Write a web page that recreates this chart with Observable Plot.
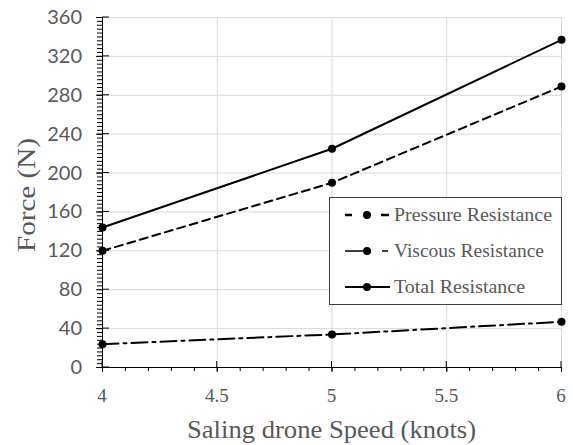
<!DOCTYPE html>
<html>
<head>
<meta charset="utf-8">
<script src="https://cdn.jsdelivr.net/npm/d3@7"></script>
<script src="https://cdn.jsdelivr.net/npm/@observablehq/plot@0.6"></script>
<style>
  html, body { margin: 0; padding: 0; background: #fff; }
  #chart { position: relative; width: 573px; height: 445px; }
</style>
</head>
<body>
<div id="chart"></div>
<script>
const speeds = [4, 5, 6];
const pressure = [120, 190, 289];
const viscous = [24, 34, 47];
const total = [144, 225, 337];
const seriesNames = ["Pressure Resistance", "Viscous Resistance", "Total Resistance"];
const xTicks = [4, 4.5, 5, 5.5, 6];
const yTicks = [0, 40, 80, 120, 160, 200, 240, 280, 320, 360];

const dashes = {
  "Pressure Resistance": "8,5",
  "Viscous Resistance": "16,5,3,5",
  "Total Resistance": null
};
const seriesValues = [pressure, viscous, total];
const rows = [];
seriesNames.forEach((name, i) => speeds.forEach((s, j) => rows.push({series: name, x: s, y: seriesValues[i][j]})));

const xMinor = d3.range(40, 61).map(v => v / 10);
const yMinor = d3.range(0, 361, 4);
const ink = "#595959";

const lineMarks = seriesNames.map(name =>
  Plot.line(rows.filter(d => d.series === name), {
    x: "x", y: "y", stroke: "black", strokeWidth: 2,
    strokeDasharray: dashes[name] || undefined
  })
);

const plot = Plot.plot({
  width: 573,
  height: 445,
  marginLeft: 102,
  marginRight: 12,
  marginTop: 17,
  marginBottom: 78,
  x: {domain: [4, 6], ticks: xTicks},
  y: {domain: [0, 360], ticks: yTicks},
  style: {background: "white"},
  marks: [
    Plot.gridY(yTicks.filter(v => v > 0), {stroke: "#d9d9d9", strokeOpacity: 1, strokeWidth: 1}),
    Plot.gridX(xTicks.filter(v => v > 4), {stroke: "#d9d9d9", strokeOpacity: 1, strokeWidth: 1}),
    Plot.axisY(yMinor, {tickSize: 5, tickFormat: () => "", label: null, stroke: "black", strokeOpacity: 1}),
    Plot.axisY(yTicks, {tickSize: 6, tickFormat: () => "", label: null, stroke: "black", strokeOpacity: 1}),
    Plot.axisX(xMinor, {tickSize: 4, tickFormat: () => "", label: null, stroke: "black", strokeOpacity: 1}),
    Plot.axisX(xTicks, {tickSize: 5, tickFormat: () => "", label: null, stroke: "black", strokeOpacity: 1}),
    Plot.ruleX([4], {stroke: "black", strokeWidth: 1}),
    Plot.ruleY([0], {stroke: "black", strokeWidth: 1}),
    ...lineMarks,
    Plot.dot(rows, {x: "x", y: "y", r: 4, fill: "black", stroke: "none"})
  ]
});

const svg = d3.select(plot);
const xs = plot.scale("x"), ys = plot.scale("y");

// tick labels placed with the plot's own scales
yTicks.forEach(v => {
  svg.append("text")
    .attr("x", xs.apply(4) - 20).attr("y", ys.apply(v) + 7)
    .attr("text-anchor", "end")
    .attr("font-family", "Lato").attr("font-size", 20).attr("fill", ink)
    .text(String(v));
});
xTicks.forEach(v => {
  svg.append("text")
    .attr("x", xs.apply(v)).attr("y", ys.apply(0) + 35)
    .attr("text-anchor", "middle")
    .attr("font-family", "Liberation Serif").attr("font-size", 19).attr("fill", ink)
    .text(String(v));
});

yTicks.forEach(v => {
  const py = ys.apply(v), px = xs.apply(4);
  svg.append("line").attr("x1", px).attr("x2", px + 7).attr("y1", py).attr("y2", py).attr("stroke", "black");
});
xTicks.forEach(v => {
  const px = xs.apply(v), py = ys.apply(0);
  svg.append("line").attr("x1", px).attr("x2", px).attr("y1", py).attr("y2", py - 6).attr("stroke", "black");
});

svg.append("text")
  .attr("x", (xs.apply(4) + xs.apply(6)) / 2).attr("y", 438)
  .attr("text-anchor", "middle")
  .attr("font-family", "Liberation Serif").attr("font-size", 26).attr("fill", ink)
  .attr("textLength", 289).attr("lengthAdjust", "spacingAndGlyphs")
  .text("Saling drone Speed (knots)");
svg.append("text")
  .attr("transform", "translate(35,195) rotate(-90)")
  .attr("text-anchor", "middle")
  .attr("font-family", "Liberation Serif").attr("font-size", 25).attr("fill", ink)
  .attr("textLength", 114).attr("lengthAdjust", "spacingAndGlyphs")
  .text("Force (N)");

const lg = svg.append("g").attr("text-anchor", "start");
lg.append("rect").attr("x", 329.5).attr("y", 197.5).attr("width", 232).attr("height", 107)
  .attr("fill", "white").attr("stroke", "#404040").attr("stroke-width", 1);
const legendRows = [215, 251, 287];
const legendWidths = [158, 150, 131];
seriesNames.forEach((name, i) => {
  const y = legendRows[i];
  const g = lg.append("g");
  if (i === 0) {
    g.append("line").attr("x1", 345).attr("x2", 352).attr("y1", y).attr("y2", y).attr("stroke", "black").attr("stroke-width", 2.5);
    g.append("line").attr("x1", 381).attr("x2", 389).attr("y1", y).attr("y2", y).attr("stroke", "black").attr("stroke-width", 2.5);
  } else if (i === 1) {
    g.append("line").attr("x1", 345).attr("x2", 364).attr("y1", y).attr("y2", y).attr("stroke", "black").attr("stroke-width", 1.5);
    g.append("line").attr("x1", 382).attr("x2", 388).attr("y1", y).attr("y2", y).attr("stroke", "black").attr("stroke-width", 1.5);
  } else {
    g.append("line").attr("x1", 345).attr("x2", 390).attr("y1", y).attr("y2", y).attr("stroke", "black").attr("stroke-width", 2);
  }
  g.append("circle").attr("cx", 367).attr("cy", y).attr("r", 4).attr("fill", "black");
  g.append("text").attr("x", 394).attr("y", y + 6)
    .attr("font-family", "Liberation Serif").attr("font-size", 18).attr("fill", ink)
    .attr("textLength", legendWidths[i]).attr("lengthAdjust", "spacingAndGlyphs")
    .text(name);
});

document.getElementById("chart").appendChild(plot);
</script>
</body>
</html>
